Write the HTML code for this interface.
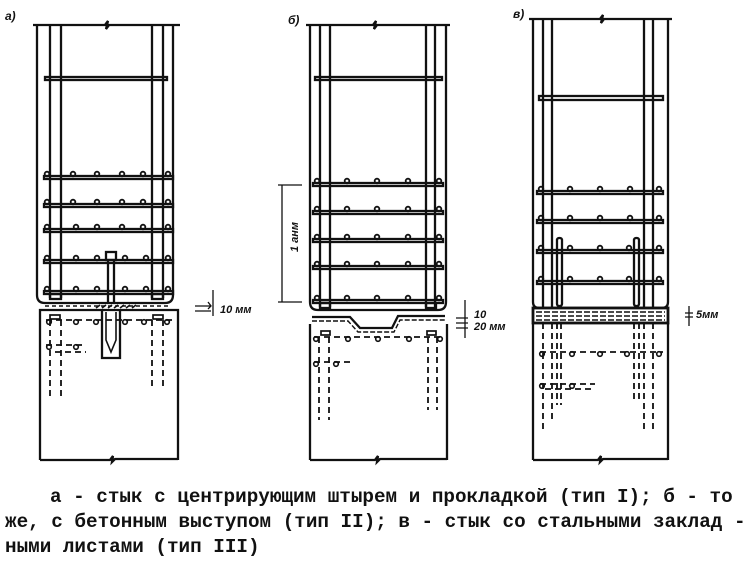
<!DOCTYPE html>
<html><head><meta charset="utf-8"><style>
html,body{margin:0;padding:0;background:#fff;width:753px;height:571px;overflow:hidden}
svg{position:absolute;left:0;top:0}
.cap{position:absolute;left:0;top:0;font-family:"Liberation Mono","DejaVu Sans Mono",monospace;font-weight:bold;font-size:19.3px;color:#111;white-space:pre;line-height:25px}
</style></head><body>
<svg width="753" height="571" viewBox="0 0 753 571" fill="none" stroke="#111" stroke-width="2.3">
<g font-family="Liberation Sans, sans-serif" font-style="italic" font-weight="bold" font-size="12" fill="#111" stroke="none">
<text x="5" y="20">а)</text><text x="288" y="24">б)</text><text x="513" y="18">в)</text>
<text x="220" y="313" font-size="11">10 мм</text>
<text x="474" y="318" font-size="11">10</text><text x="474" y="330" font-size="11">20 мм</text>
<text x="696" y="318" font-size="11">5мм</text>
<text transform="translate(298,252) rotate(-90)" font-size="11">1 анм</text>
</g>
<!-- PANEL A -->
<path d="M33 25 H105 l3 -4 -2 8 3 -4 H180"/>
<path d="M37 25 V295 Q37 303 45 303 H165 Q173 303 173 295 V25"/>
<path d="M50 25 V298 M61 25 V298 M152 25 V298 M163 25 V298"/>
<rect x="45" y="77" width="122" height="3"/>
<g>
<rect x="44" y="176" width="129" height="3"/><rect x="44" y="204" width="129" height="3"/><rect x="44" y="229" width="129" height="3"/><rect x="44" y="260" width="129" height="3"/><rect x="44" y="291" width="129" height="3"/>
</g>
<g stroke-width="1.8">
<circle cx="47" cy="174" r="2.3"/><circle cx="73" cy="174" r="2.3"/><circle cx="97" cy="174" r="2.3"/><circle cx="122" cy="174" r="2.3"/><circle cx="143" cy="174" r="2.3"/><circle cx="168" cy="174" r="2.3"/>
<circle cx="47" cy="202" r="2.3"/><circle cx="73" cy="202" r="2.3"/><circle cx="97" cy="202" r="2.3"/><circle cx="122" cy="202" r="2.3"/><circle cx="143" cy="202" r="2.3"/><circle cx="168" cy="202" r="2.3"/>
<circle cx="47" cy="227" r="2.3"/><circle cx="76" cy="227" r="2.3"/><circle cx="97" cy="227" r="2.3"/><circle cx="122" cy="227" r="2.3"/><circle cx="143" cy="227" r="2.3"/><circle cx="168" cy="227" r="2.3"/>
<circle cx="47" cy="258" r="2.3"/><circle cx="76" cy="258" r="2.3"/><circle cx="97" cy="258" r="2.3"/><circle cx="125" cy="258" r="2.3"/><circle cx="146" cy="258" r="2.3"/><circle cx="168" cy="258" r="2.3"/>
<circle cx="47" cy="289" r="2.3"/><circle cx="76" cy="289" r="2.3"/><circle cx="97" cy="289" r="2.3"/><circle cx="125" cy="289" r="2.3"/><circle cx="146" cy="289" r="2.3"/><circle cx="168" cy="289" r="2.3"/>
</g>
<rect x="50" y="294" width="11" height="5"/><rect x="152" y="294" width="11" height="5"/>
<rect x="106" y="252" width="10" height="8"/>
<path d="M108 260 V302 M114 260 V302"/>
<path d="M96 308 l4 -3 M102 308 l4 -3 M108 308 l4 -3 M114 308 l4 -3 M120 308 l4 -3 M126 308 l4 -3 M132 308 l4 -3" stroke-width="1.7"/>
<path d="M45 306 H170" stroke-dasharray="4 3" stroke-width="1.4"/>
<path d="M40 460 V310 H178 V460 M40 460 H110 l3 -4 -1 6 3 -3 H178"/>
<path d="M102 310 V358 H120 V310"/>
<path d="M106 312 V340 L111 352 L116 340 V312" stroke-width="1.6"/>
<g stroke-dasharray="6 4" stroke-width="1.8">
<path d="M46 320 H172"/><path d="M46 345 H86"/><path d="M55 352 H86"/>
<path d="M50 320 V400 M61 320 V400 M152 320 V390 M163 320 V390"/>
</g>
<rect x="50" y="315" width="10" height="4" stroke-width="1.7"/><rect x="153" y="315" width="10" height="4" stroke-width="1.7"/>
<g stroke-width="1.6"><circle cx="49" cy="322" r="2.3"/><circle cx="76" cy="322" r="2.3"/><circle cx="96" cy="322" r="2.3"/><circle cx="125" cy="322" r="2.3"/><circle cx="144" cy="322" r="2.3"/><circle cx="167" cy="322" r="2.3"/><circle cx="49" cy="347" r="2.3"/><circle cx="76" cy="347" r="2.3"/></g>
<path d="M195 306 H211 M195 311 H211 M208 302 l3 4 -3 3 M213 290 V316" stroke-width="1.3"/>
<!-- PANEL B -->
<path d="M306 25 H373 l3 -4 -2 8 3 -4 H450"/>
<path d="M310 25 V302 Q310 310 318 310 H438 Q446 310 446 302 V25"/>
<path d="M320 25 V307 M330 25 V307 M426 25 V307 M435 25 V307"/>
<rect x="315" y="77" width="127" height="3"/>
<rect x="313" y="183" width="130" height="3"/><rect x="313" y="211" width="130" height="3"/><rect x="313" y="239" width="130" height="3"/><rect x="313" y="266" width="130" height="3"/><rect x="313" y="300" width="130" height="3"/>
<g stroke-width="1.8">
<circle cx="317" cy="181" r="2.3"/><circle cx="347" cy="181" r="2.3"/><circle cx="377" cy="181" r="2.3"/><circle cx="408" cy="181" r="2.3"/><circle cx="439" cy="181" r="2.3"/>
<circle cx="317" cy="209" r="2.3"/><circle cx="347" cy="209" r="2.3"/><circle cx="377" cy="209" r="2.3"/><circle cx="408" cy="209" r="2.3"/><circle cx="439" cy="209" r="2.3"/>
<circle cx="317" cy="237" r="2.3"/><circle cx="347" cy="237" r="2.3"/><circle cx="377" cy="237" r="2.3"/><circle cx="408" cy="237" r="2.3"/><circle cx="439" cy="237" r="2.3"/>
<circle cx="317" cy="264" r="2.3"/><circle cx="347" cy="264" r="2.3"/><circle cx="377" cy="264" r="2.3"/><circle cx="408" cy="264" r="2.3"/><circle cx="439" cy="264" r="2.3"/>
<circle cx="317" cy="298" r="2.3"/><circle cx="347" cy="298" r="2.3"/><circle cx="377" cy="298" r="2.3"/><circle cx="408" cy="298" r="2.3"/><circle cx="439" cy="298" r="2.3"/>
</g>
<rect x="320" y="303" width="10" height="5"/><rect x="426" y="303" width="10" height="5"/>
<path d="M312 317 H350 L360 328 H392 L398 316 H445"/>
<path d="M312 321 H348 L358 332 H394 L400 320 H445" stroke-dasharray="5 2" stroke-width="1.4"/>
<path d="M310 460 V324 M447 460 V324 M310 460 H375 l3 -4 -1 6 3 -3 H447"/>
<g stroke-dasharray="6 4" stroke-width="1.8">
<path d="M314 337 H440"/><path d="M314 362 H352"/>
<path d="M319 337 V420 M329 337 V420 M428 337 V410 M437 337 V410"/>
</g>
<rect x="321" y="331" width="9" height="4" stroke-width="1.7"/><rect x="427" y="331" width="9" height="4" stroke-width="1.7"/>
<g stroke-width="1.6"><circle cx="316" cy="339" r="2.3"/><circle cx="348" cy="339" r="2.3"/><circle cx="378" cy="339" r="2.3"/><circle cx="409" cy="339" r="2.3"/><circle cx="440" cy="339" r="2.3"/><circle cx="316" cy="364" r="2.3"/><circle cx="336" cy="364" r="2.3"/></g>
<path d="M282 185 V302 M278 185 H302 M278 302 H302" stroke-width="1.3"/>
<path d="M465 300 V338 M456 318 H468 M456 323 H468 M456 328 H468" stroke-width="1.3"/>
<!-- PANEL C -->
<path d="M529 19 H600 l3 -4 -2 8 3 -4 H672"/>
<path d="M533 19 V302 Q533 308 539 308 H662 Q668 308 668 302 V19"/>
<path d="M543 19 V307 M552 19 V307 M644 19 V307 M653 19 V307"/>
<rect x="539" y="96" width="124" height="4"/>
<rect x="537" y="191" width="126" height="3"/><rect x="537" y="220" width="126" height="3"/><rect x="537" y="250" width="126" height="3"/><rect x="537" y="281" width="126" height="3"/>
<g stroke-width="1.8">
<circle cx="541" cy="189" r="2.3"/><circle cx="570" cy="189" r="2.3"/><circle cx="600" cy="189" r="2.3"/><circle cx="630" cy="189" r="2.3"/><circle cx="659" cy="189" r="2.3"/>
<circle cx="541" cy="218" r="2.3"/><circle cx="570" cy="218" r="2.3"/><circle cx="600" cy="218" r="2.3"/><circle cx="630" cy="218" r="2.3"/><circle cx="659" cy="218" r="2.3"/>
<circle cx="541" cy="248" r="2.3"/><circle cx="570" cy="248" r="2.3"/><circle cx="600" cy="248" r="2.3"/><circle cx="629" cy="248" r="2.3"/><circle cx="659" cy="248" r="2.3"/>
<circle cx="541" cy="279" r="2.3"/><circle cx="570" cy="279" r="2.3"/><circle cx="600" cy="279" r="2.3"/><circle cx="629" cy="279" r="2.3"/><circle cx="659" cy="279" r="2.3"/>
</g>
<rect x="557" y="238" width="5" height="68" rx="2"/><rect x="634" y="238" width="5" height="68" rx="2"/>
<rect x="533" y="308" width="135" height="15" fill="#fff" stroke-width="2.8"/>
<path d="M536 312 H665 M536 316 H665 M536 320 H665" stroke-dasharray="6 2" stroke-width="1.6"/>
<path d="M533 323 V460 M668 323 V460 M533 460 H598 l3 -4 -1 6 3 -3 H668"/>
<g stroke-dasharray="6 4" stroke-width="1.8">
<path d="M543 323 V430 M552 323 V420 M557 323 V405 M561 323 V405 M634 323 V400 M639 323 V400 M644 323 V430 M653 323 V430"/>
<path d="M540 352 H663"/><path d="M540 384 H595"/><path d="M545 389 H595"/>
</g>
<g stroke-width="1.6"><circle cx="542" cy="354" r="2.3"/><circle cx="572" cy="354" r="2.3"/><circle cx="600" cy="354" r="2.3"/><circle cx="627" cy="354" r="2.3"/><circle cx="659" cy="354" r="2.3"/><circle cx="542" cy="386" r="2.3"/><circle cx="572" cy="386" r="2.3"/></g>
<path d="M689 306 V326 M685 313 H693 M685 317 H693" stroke-width="1.3"/>
</svg>
<div class="cap" style="top:485px;left:50px">а - стык с центрирующим штырем и прокладкой (тип I); б - то</div>
<div class="cap" style="top:510px;left:5px">же, с бетонным выступом (тип II); в - стык со стальными заклад -</div>
<div class="cap" style="top:535px;left:5px">ными листами (тип III)</div>
</body></html>
